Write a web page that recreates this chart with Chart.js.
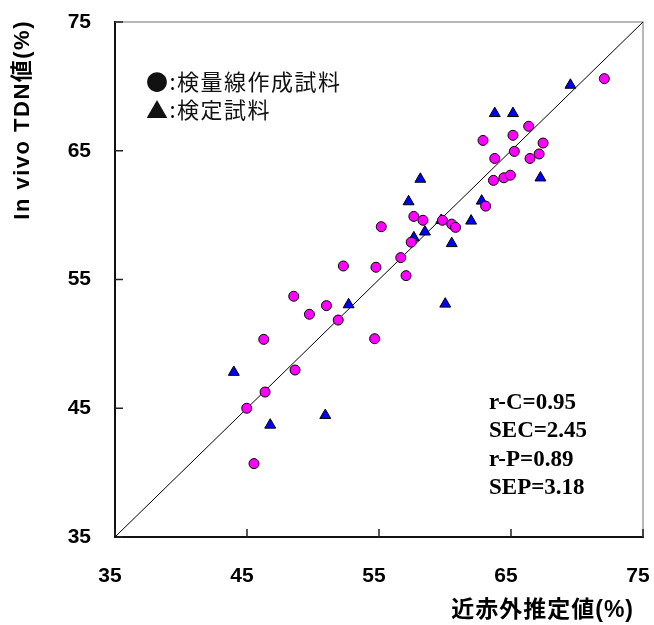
<!DOCTYPE html>
<html>
<head>
<meta charset="utf-8">
<script src="https://cdn.jsdelivr.net/npm/chart.js@4/dist/chart.umd.min.js"></script>
<style>
  html, body { margin:0; padding:0; background:#fff; }
  #wrap { width:654px; height:625px; position:relative; }
</style>
</head>
<body>
<div id="wrap"><canvas id="c"></canvas></div>
<script>
// 検量線作成試料 (calibration samples)
const calX = [72.07, 66.34, 62.88, 65.15, 67.43, 65.25, 63.77, 66.44, 67.13, 63.67, 64.46, 64.95,
              63.08, 57.64, 58.33, 59.81, 60.51, 60.80, 57.44, 55.17, 56.65, 54.77, 57.05, 52.30,
              48.54, 51.02, 49.73, 51.91, 46.27, 54.67, 48.64, 46.37, 44.98, 45.53];
const calY = [70.6, 66.9, 65.8, 66.2, 65.6, 64.95, 64.4, 64.4, 64.75, 62.7, 62.9, 63.1,
              60.7, 59.9, 59.6, 59.6, 59.3, 59.05, 57.9, 59.1, 56.7, 55.95, 55.3, 56.05,
              53.7, 52.97, 52.3, 51.85, 50.35, 50.4, 47.97, 46.26, 45.0, 40.7];

// 検定試料 (validation samples)
const valX = [69.50, 63.77, 65.15, 67.23, 58.13, 57.24, 62.78, 59.71, 61.98, 58.48, 57.64, 60.51,
              52.70, 60.02, 44.00, 50.93, 46.76];
const valY = [70.1, 67.9, 67.9, 62.9, 62.8, 61.05, 61.1, 59.6, 59.55, 58.7, 58.25, 57.8,
              53.05, 53.1, 47.8, 44.45, 43.7];

// 1:1 line
const lineX = [35, 75];
const lineY = [35, 75];

const tickValues = [35, 45, 55, 65, 75];
const legendLines = ['●:検量線作成試料', '▲:検定試料'];
const statsLines = ['r-C=0.95', 'SEC=2.45', 'r-P=0.89', 'SEP=3.18'];
const xTitle = '近赤外推定値(%)';
const yTitle = 'In vivo TDN値(%)';

const toPts = (xs, ys) => xs.map((x, i) => ({ x, y: ys[i] }));

const TICK_FONT = { family: '"Liberation Sans", Arial, sans-serif', size: 21, weight: 'bold' };

const frame = {
  id: 'frame',
  beforeDatasetsDraw(chart) {
    const { ctx, chartArea: a, scales: { x, y } } = chart;
    ctx.save();
    // top & right border (grey)
    ctx.strokeStyle = '#a0a0a0';
    ctx.lineWidth = 1.5;
    ctx.beginPath();
    ctx.moveTo(a.left, a.top); ctx.lineTo(a.right, a.top); ctx.lineTo(a.right, a.bottom);
    ctx.stroke();
    // inner tick marks
    ctx.strokeStyle = '#222';
    ctx.lineWidth = 1.5;
    ctx.beginPath();
    tickValues.forEach(v => {
      const px = x.getPixelForValue(v);
      ctx.moveTo(px, a.bottom); ctx.lineTo(px, a.bottom - 8);
      const py = y.getPixelForValue(v);
      ctx.moveTo(a.left, py); ctx.lineTo(a.left + 8, py);
    });
    ctx.stroke();
    ctx.restore();
  },
  afterDraw(chart) {
    const { ctx } = chart;
    ctx.save();
    ctx.fillStyle = '#111';
    // legend text
    ctx.font = '22px "Noto Sans CJK JP", sans-serif';
    ctx.letterSpacing = '1.5px';
    ctx.textAlign = 'left'; ctx.textBaseline = 'middle';
    legendLines.forEach((t, i) => ctx.fillText(t, 146, 82 + i * 28));
    // stats
    ctx.letterSpacing = '0px';
    ctx.fillStyle = '#000';
    ctx.font = 'bold 23px "Liberation Serif", "Times New Roman", serif';
    statsLines.forEach((t, i) => ctx.fillText(t, 489, 403 + i * 28.5));
    // x title
    ctx.font = 'bold 23px "Liberation Sans", "Noto Sans CJK JP", sans-serif';
    ctx.letterSpacing = '1px';
    ctx.textAlign = 'right';
    ctx.fillText(xTitle, 634, 611);
    // y title
    ctx.font = 'bold 22px "Liberation Sans", "Noto Sans CJK JP", sans-serif';
    ctx.letterSpacing = '1.5px';
    ctx.translate(23, 20);
    ctx.rotate(-Math.PI / 2);
    ctx.textAlign = 'right';
    ctx.fillText(yTitle, 0, 0);
    ctx.restore();
  }
};

new Chart(document.getElementById('c'), {
  type: 'scatter',
  data: {
    datasets: [
      { label: '検量線作成試料', data: toPts(calX, calY), pointStyle: 'circle', pointRadius: 5,
        backgroundColor: '#ff00ff', borderColor: '#000', borderWidth: 1 },
      { label: '検定試料', data: toPts(valX, valY), pointStyle: 'triangle', pointRadius: 6.3,
        backgroundColor: '#0000ff', borderColor: '#000', borderWidth: 1 },
      { type: 'line', label: '1:1', data: toPts(lineX, lineY), borderColor: '#000', borderWidth: 1,
        pointRadius: 0, fill: false, tension: 0 }
    ]
  },
  options: {
    responsive: true, maintainAspectRatio: false, animation: false,
    layout: { padding: { left: 0, top: 22, right: 11, bottom: 0 } },
    plugins: { legend: { display: false }, tooltip: { enabled: false } },
    scales: {
      x: {
        type: 'linear', min: 35, max: 75,
        afterBuildTicks: s => { s.ticks = tickValues.map(v => ({ value: v })); },
        afterFit: s => { s.height = 88; s.paddingLeft = 0; s.paddingRight = 0; },
        grid: { display: false, drawTicks: false },
        border: { display: true, color: '#111', width: 2 },
        ticks: { font: TICK_FONT, color: '#000', padding: 27, labelOffset: -5, maxRotation: 0 }
      },
      y: {
        type: 'linear', min: 35, max: 75,
        afterBuildTicks: s => { s.ticks = tickValues.map(v => ({ value: v })); },
        afterFit: s => { s.width = 115; s.paddingTop = 0; s.paddingBottom = 0; },
        grid: { display: false, drawTicks: false },
        border: { display: true, color: '#111', width: 2 },
        ticks: { font: TICK_FONT, color: '#000', padding: 24 }
      }
    }
  },
  plugins: [frame]
});
</script>
</body>
</html>
